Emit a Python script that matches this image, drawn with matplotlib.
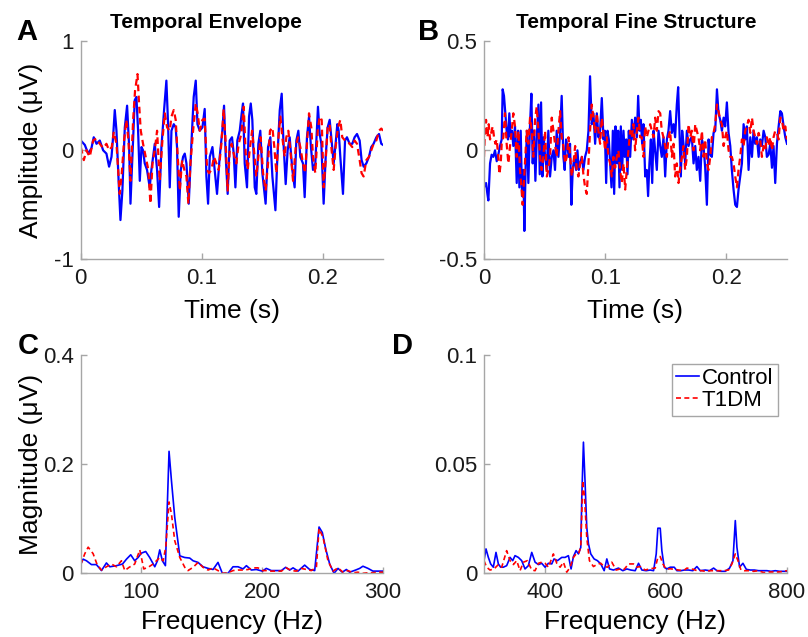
import numpy as np
import matplotlib
matplotlib.use("Agg")
import matplotlib.pyplot as plt

plt.rcParams['font.family'] = ['Liberation Sans', 'DejaVu Sans']

# (time in ms, amplitude in uV)
env_control = [
    (0, 0.09), (3.3, 0.05), (6.1, -0.03), (8.8, 0.02), (10.7, 0.12), (13.0, 0.06), (15.7, 0.09),
    (18.5, 0.00), (21.2, -0.03), (23.4, -0.15), (25.4, -0.06), (26.7, 0.12), (28.1, 0.37),
    (29.5, 0.18), (31.4, -0.31), (32.8, -0.64), (34.4, -0.37), (36.4, 0.21), (38.3, 0.41),
    (40.0, 0.03), (41.1, -0.49), (42.7, -0.06), (44.6, 0.46), (46.0, 0.49), (47.4, 0.18),
    (48.8, -0.28), (50.2, 0.03), (51.5, 0.00), (52.9, -0.12), (54.8, -0.18), (57.0, -0.34),
    (58.4, -0.18), (61.2, 0.06), (63.1, -0.18), (64.8, -0.52), (66.7, 0.03), (68.9, 0.37),
    (70.8, 0.64), (72.2, 0.24), (73.6, -0.34), (75.0, 0.18), (76.9, 0.24), (78.5, 0.21),
    (79.6, 0.03), (81.0, -0.61), (82.7, -0.18), (84.6, -0.06), (86.0, -0.03), (87.4, -0.12),
    (89.3, -0.49), (91.5, 0.06), (93.4, 0.49), (95.1, 0.64), (96.5, 0.24), (98.4, 0.18),
    (100.6, 0.21), (102.5, 0.38), (103.9, -0.24), (105.3, -0.49), (106.7, -0.06), (108.9, 0.03),
    (110.8, -0.18), (112.7, -0.40), (114.9, -0.06), (117.1, 0.18), (118.5, 0.41), (119.9, -0.06),
    (121.5, -0.40), (123.2, 0.09), (125.1, 0.12), (126.5, -0.03), (127.9, -0.34), (129.5, 0.09),
    (131.5, 0.18), (133.1, 0.34), (134.2, 0.43), (135.6, -0.12), (137.5, -0.34), (139.2, 0.31),
    (140.6, 0.43), (141.9, 0.28), (143.9, -0.34), (145.2, -0.40), (146.9, 0.06), (148.5, 0.18),
    (150.2, -0.21), (152.9, -0.49), (154.9, 0.03), (156.8, 0.12), (158.5, -0.24), (161.0, -0.55),
    (162.4, -0.12), (164.6, 0.37), (166.2, 0.52), (167.6, 0.09), (169.5, -0.31), (171.1, 0.00),
    (172.8, 0.12), (175.0, -0.18), (176.9, -0.34), (178.3, 0.09), (180.0, 0.18), (181.6, -0.06),
    (183.8, -0.12), (185.2, -0.43), (187.1, 0.12), (188.8, 0.31), (190.4, 0.03), (192.1, -0.18),
    (194.0, -0.12), (196.2, 0.40), (197.6, 0.15), (199.0, 0.06), (200.9, -0.49), (202.6, -0.06),
    (204.2, 0.21), (205.9, 0.28), (207.5, 0.09), (209.2, -0.12), (210.8, 0.06), (212.2, 0.24),
    (213.3, 0.18), (214.7, -0.06), (216.9, -0.40), (218.6, 0.09), (220.2, 0.12), (222.4, 0.06),
    (224.6, 0.06), (226.5, 0.12), (228.5, 0.15), (230.7, 0.09), (232.3, -0.09), (234.0, -0.15),
    (236.2, -0.12), (238.4, -0.06), (240.3, 0.03), (242.2, 0.06), (244.5, 0.12), (246.7, 0.15),
    (248.6, 0.06), (250.0, 0.05),
]
env_t1dm = [
    (0, 0.03), (2.5, -0.09), (4.7, 0.00), (7.4, -0.06), (10.2, 0.09), (13.0, 0.11), (15.7, 0.06),
    (18.5, 0.02), (21.2, 0.06), (23.4, 0.00), (25.6, 0.03), (27.3, 0.17), (29.5, 0.06),
    (32.2, -0.40), (33.9, -0.21), (35.8, 0.09), (37.7, 0.28), (39.4, 0.09), (41.1, -0.28),
    (43.3, 0.28), (44.9, 0.55), (46.9, 0.70), (48.2, 0.43), (49.6, 0.18), (51.5, 0.06),
    (53.7, -0.06), (55.9, -0.18), (57.6, -0.49), (59.3, -0.12), (61.2, 0.00), (63.1, 0.18),
    (65.3, -0.28), (67.5, 0.09), (69.5, 0.34), (71.4, 0.21), (73.6, 0.18), (75.0, 0.31),
    (76.9, 0.37), (78.5, 0.28), (80.5, -0.12), (81.9, -0.37), (83.8, -0.09), (85.7, -0.18),
    (87.4, -0.24), (89.0, -0.49), (90.7, -0.12), (92.9, 0.18), (95.1, 0.43), (96.7, 0.34),
    (98.4, 0.18), (100.6, 0.28), (102.5, 0.29), (104.5, -0.18), (106.1, -0.21), (108.0, -0.18),
    (110.2, -0.06), (112.2, -0.12), (114.1, -0.18), (116.3, 0.06), (118.2, 0.38), (119.9, 0.06),
    (121.5, -0.37), (123.2, 0.00), (124.8, 0.06), (126.5, -0.03), (128.7, -0.12), (130.6, 0.06),
    (132.8, 0.15), (134.8, 0.40), (136.4, -0.03), (138.1, -0.18), (139.7, 0.00), (141.7, 0.18),
    (143.3, 0.00), (145.2, -0.24), (146.9, -0.06), (148.8, 0.12), (150.8, -0.21), (152.9, -0.37),
    (154.9, -0.12), (156.5, 0.18), (158.5, 0.21), (160.1, 0.03), (161.8, -0.21), (163.7, 0.15),
    (165.1, 0.31), (166.7, 0.12), (168.7, -0.06), (170.0, 0.12), (171.7, 0.18), (173.6, -0.03),
    (175.6, -0.28), (177.8, 0.03), (179.7, 0.12), (181.6, 0.03), (183.8, -0.12), (185.5, -0.21),
    (187.1, 0.06), (188.8, 0.34), (190.7, 0.21), (192.1, -0.06), (194.0, -0.21), (196.0, 0.18),
    (197.6, 0.31), (199.3, 0.28), (200.9, -0.34), (202.6, -0.09), (204.2, 0.21), (205.9, 0.24),
    (207.5, 0.00), (209.2, -0.18), (210.8, 0.03), (212.8, 0.21), (214.7, 0.28), (216.3, 0.12),
    (218.6, 0.09), (220.2, 0.09), (222.4, 0.06), (224.6, 0.03), (226.5, 0.09), (228.5, 0.06),
    (230.7, -0.09), (232.3, -0.21), (234.0, -0.24), (236.2, -0.09), (238.4, -0.06), (240.3, 0.00),
    (242.2, 0.06), (244.5, 0.09), (246.7, 0.18), (248.6, 0.20), (250.0, 0.18),
]
tfs_control = [
    (0, -0.17), (1.7, -0.15), (2.8, -0.20), (3.6, -0.23), (5.0, -0.06), (6.3, -0.02), (7.7, -0.03),
    (9.1, 0), (10.5, -0.05), (11.8, -0.02), (13.2, 0.02), (14.6, 0.05), (15.4, 0.28), (16.5, 0.25),
    (17.6, 0.17), (18.7, 0.09), (19.8, 0.05), (20.9, 0.17), (22.0, 0.06), (23.1, 0.09), (24.2, 0.02),
    (25.6, 0.11), (27.0, -0.15), (28.1, 0.09), (29.2, -0.17), (30.3, 0.09), (31.4, -0.21),
    (32.5, -0.09), (33.3, -0.37), (34.4, -0.06), (35.5, 0.09), (36.6, -0.15), (38.0, 0.12),
    (39.1, 0.26), (40.2, -0.06), (41.3, 0.09), (42.4, -0.14), (43.5, 0.05), (44.9, 0.21),
    (46.0, -0.11), (47.1, 0.22), (48.2, -0.12), (49.3, 0.06), (50.4, -0.03), (51.8, -0.09),
    (53.1, 0.09), (54.5, -0.12), (55.9, -0.03), (57.3, 0), (58.6, -0.09), (60.0, 0.09), (61.4, -0.03),
    (62.8, 0.08), (64.1, 0.25), (65.5, -0.03), (66.6, -0.09), (67.7, 0.05), (68.8, 0.02),
    (69.9, -0.03), (71.0, 0.03), (72.1, -0.25), (73.2, -0.09), (74.6, -0.03), (76.0, -0.09),
    (77.1, 0), (78.2, -0.09), (79.3, -0.06), (80.7, -0.03), (82.0, -0.09), (83.4, -0.03), (84.8, 0),
    (86.2, 0.09), (87.5, 0.34), (88.9, 0.12), (90.3, 0.17), (91.7, 0.03), (93.1, 0.17), (94.4, 0.06),
    (95.8, 0.09), (97.2, 0.24), (98.6, 0.05), (99.7, 0.09), (100.8, -0.15), (101.9, 0.09),
    (103.0, 0.05), (104.1, -0.06), (105.2, -0.17), (106.3, 0.09), (107.4, -0.20), (108.5, 0.11),
    (109.6, -0.06), (110.7, 0.09), (111.8, -0.17), (112.9, 0.11), (114.0, -0.09), (115.1, 0.09),
    (116.2, -0.03), (117.3, 0.05), (118.4, -0.11), (119.5, 0.09), (120.6, -0.03), (122.0, 0.14),
    (123.3, 0.05), (124.7, 0.15), (126.1, 0.06), (127.2, 0.25), (128.3, 0.09), (129.4, 0.14),
    (130.5, 0.03), (131.6, 0.12), (133.0, -0.12), (134.3, -0.09), (135.4, -0.21), (136.5, -0.06),
    (137.7, 0.05), (138.8, -0.15), (139.9, 0.09), (141.2, 0), (142.6, -0.09), (144.0, 0.09),
    (145.4, 0.02), (146.7, -0.03), (148.1, 0.06), (149.5, -0.12), (150.9, 0.05), (152.2, 0.09),
    (153.6, 0.18), (155.0, 0.08), (156.4, 0.12), (157.7, 0.06), (159.1, 0.21), (160.2, 0.29),
    (161.3, 0.09), (162.4, -0.12), (163.5, 0.09), (164.6, 0.03), (166.0, -0.06), (167.4, 0.09),
    (168.8, 0.02), (170.1, 0.05), (171.5, 0.06), (172.9, -0.06), (174.3, 0.02), (175.6, -0.09),
    (177.0, -0.03), (178.4, -0.14), (179.8, 0.05), (181.1, 0.02), (182.5, -0.08), (183.9, -0.25),
    (185.3, 0.05), (186.7, -0.02), (188.0, -0.03), (189.4, 0.08), (190.8, 0.09), (192.2, 0.28),
    (193.5, 0.17), (194.9, 0.14), (196.3, 0.09), (197.7, 0.15), (199.0, 0.11), (200.4, 0.22),
    (201.8, 0.08), (203.2, 0.02), (204.5, -0.09), (205.9, -0.18), (207.3, -0.25), (208.7, -0.26),
    (210.0, -0.18), (211.4, -0.12), (212.8, -0.06), (214.2, 0.12), (215.6, 0.05), (216.9, 0.11),
    (218.3, -0.09), (219.7, 0.06), (221.1, -0.03), (222.4, 0.09), (223.8, 0.03), (225.2, 0.06),
    (226.6, -0.03), (227.9, 0.05), (229.3, 0.02), (230.7, 0.09), (232.1, 0.06), (233.4, -0.03),
    (234.8, -0.02), (236.2, 0.03), (237.6, -0.08), (238.9, 0.02), (240.3, -0.15), (241.7, 0.03),
    (243.1, 0.11), (244.5, 0.18), (245.8, 0.17), (247.2, 0.11), (248.6, 0.06), (250.0, 0.03),
]
tfs_t1dm = [
    (0, -0.03), (0.8, 0.09), (1.7, 0.14), (2.8, 0.06), (3.9, 0.12), (5.0, 0.05), (6.3, 0.09),
    (7.2, 0.11), (8.3, 0.06), (9.4, 0.03), (10.5, 0.05), (11.8, -0.03), (12.7, -0.11), (13.8, -0.06),
    (14.6, 0.03), (16.0, 0.06), (17.3, 0.17), (18.7, 0.03), (20.1, -0.06), (21.5, 0.02), (22.9, 0.09),
    (24.2, 0.17), (25.6, 0.11), (27.0, -0.03), (28.4, 0.09), (29.7, -0.09), (31.1, -0.18),
    (31.9, -0.25), (33.0, -0.14), (34.1, -0.03), (35.2, 0.09), (36.6, 0.03), (38.0, 0.15),
    (39.4, 0.09), (40.7, -0.03), (42.1, 0.14), (43.5, 0.20), (44.9, 0.09), (46.3, -0.03),
    (47.6, -0.09), (49.0, -0.03), (50.4, 0.09), (51.8, -0.12), (53.1, -0.09), (54.5, -0.03),
    (55.9, 0.15), (57.3, 0.09), (58.6, 0.03), (60.0, -0.03), (61.4, 0.09), (62.8, 0.18), (64.1, 0.06),
    (65.5, 0.02), (66.9, -0.06), (68.3, -0.03), (69.7, 0.06), (71.0, -0.02), (72.4, -0.12),
    (73.8, -0.06), (75.2, 0.02), (76.5, -0.09), (77.9, -0.12), (79.3, -0.06), (80.7, -0.03),
    (82.0, -0.11), (83.4, -0.17), (84.8, -0.20), (86.2, -0.06), (87.5, 0.09), (88.9, 0.21),
    (90.3, 0.15), (91.7, 0.08), (93.1, 0.17), (94.4, 0.09), (95.8, 0.03), (97.2, 0.15), (98.6, 0.08),
    (99.9, 0), (101.3, 0.06), (102.7, -0.03), (104.1, -0.06), (105.4, -0.12), (106.8, -0.03),
    (108.2, -0.08), (109.6, -0.03), (110.9, 0), (112.3, -0.09), (113.7, -0.15), (115.1, -0.06),
    (116.5, -0.18), (117.8, -0.09), (119.2, 0), (120.6, 0.09), (122.0, 0.06), (123.3, 0.12),
    (124.7, 0), (126.1, 0.09), (127.5, 0.15), (128.8, 0.06), (130.2, 0.06), (131.6, -0.03),
    (133.0, 0.11), (134.3, 0.06), (135.7, 0.09), (137.1, 0.12), (138.5, 0.09), (139.9, 0.06),
    (141.2, 0.15), (142.6, 0.09), (144.0, 0.18), (145.4, 0.17), (146.7, 0.09), (148.1, 0.06),
    (149.5, 0.02), (150.9, -0.03), (152.2, 0.06), (153.6, 0.09), (155.0, -0.03), (156.4, 0.03),
    (157.7, -0.12), (159.1, -0.06), (160.5, -0.15), (161.9, -0.08), (163.3, -0.03), (164.6, 0.02),
    (166.0, -0.09), (167.4, -0.03), (168.8, 0.12), (170.1, 0.06), (171.5, 0.09), (172.9, 0),
    (174.3, 0.12), (175.6, 0.09), (177.0, 0.06), (178.4, 0), (179.8, 0.09), (181.1, -0.03),
    (182.5, 0.05), (183.9, -0.06), (185.3, -0.09), (186.7, -0.03), (188.0, 0.06), (189.4, 0.08),
    (190.8, 0.12), (192.2, 0.21), (193.5, 0.18), (194.9, 0.14), (196.3, 0.12), (197.7, 0.02),
    (199.0, 0.06), (200.4, 0.09), (201.8, 0), (203.2, -0.03), (204.5, -0.03), (205.9, -0.06),
    (207.3, -0.12), (208.7, -0.17), (210.0, -0.09), (211.4, -0.03), (212.8, 0.05), (214.2, 0.02),
    (215.6, 0.09), (216.9, 0.11), (218.3, 0.14), (219.7, 0.08), (221.1, 0.15), (222.4, 0.09),
    (223.8, 0.06), (225.2, 0.03), (226.6, 0.08), (227.9, 0.05), (229.3, -0.03), (230.7, 0.02),
    (232.1, 0), (233.4, 0.06), (234.8, 0.02), (236.2, 0.06), (237.6, 0), (238.9, 0.06), (240.3, 0.09),
    (241.7, 0.08), (243.1, 0.05), (244.5, 0.15), (245.8, 0.14), (247.2, 0.09), (248.6, 0.11),
    (250.0, 0.05),
]

# (frequency in Hz, magnitude in uV)
env_spec_control = [
    (50.0, 0.017), (51.9, 0.026), (54.7, 0.023), (58.8, 0.016), (62.9, 0.016), (67.1, 0.005),
    (71.2, 0.019), (74.0, 0.012), (79.5, 0.014), (84.5, 0.017), (87.8, 0.026), (91.3, 0.034),
    (94.6, 0.023), (97.4, 0.029), (100.1, 0.037), (103.7, 0.040), (107.0, 0.029), (111.2, 0.012),
    (113.4, 0.023), (115.3, 0.043), (117.5, 0.023), (120.0, 0.014), (123.0, 0.224), (125.0, 0.170),
    (127.7, 0.103), (131.9, 0.032), (136.0, 0.029), (140.1, 0.028), (142.9, 0.023), (147.0, 0.020),
    (151.1, 0.012), (155.3, 0.009), (159.4, 0.007), (163.5, 0.020), (167.1, 0.0), (171.8, 0.0),
    (175.9, 0.012), (180.1, 0.012), (184.2, 0.008), (187.0, 0.014), (191.1, 0.006), (195.2, 0.007),
    (200.2, 0.004), (203.5, 0.009), (207.6, 0.005), (212.3, 0.005), (215.9, 0.005), (219.5, 0.011),
    (222.8, 0.006), (225.6, 0.010), (229.7, 0.004), (235.2, 0.015), (239.3, 0.007), (243.5, 0.005),
    (247.1, 0.085), (249.8, 0.075), (252.6, 0.045), (255.9, 0.017), (259.5, 0.0), (262.8, 0.009),
    (266.3, 0.002), (269.7, 0.007), (272.4, 0.002), (277.4, 0.006), (280.7, 0.009), (283.4, 0.013),
    (287.6, 0.009), (291.7, 0.004), (295.8, 0.004), (300.0, 0.004),
]
env_spec_t1dm = [
    (50.0, 0.016), (53.3, 0.036), (56.1, 0.048), (60.2, 0.036), (63.5, 0.016), (67.1, 0.006),
    (71.2, 0.012), (75.4, 0.017), (79.5, 0.012), (83.6, 0.023), (86.4, 0.005), (90.0, 0.011),
    (94.6, 0.017), (98.8, 0.043), (102.1, 0.008), (105.7, 0.011), (109.8, 0.017), (112.6, 0.023),
    (115.3, 0.029), (118.1, 0.023), (120.3, 0.048), (123.0, 0.131), (125.0, 0.109), (127.7, 0.060),
    (131.9, 0.029), (136.0, 0.011), (138.7, 0.005), (142.9, 0.011), (147.0, 0.020), (151.1, 0.011),
    (155.3, 0.006), (159.4, 0.010), (163.5, 0.005), (167.7, 0.0), (171.8, 0.001), (175.9, 0.005),
    (180.1, 0.006), (184.2, 0.006), (188.4, 0.007), (192.5, 0.010), (196.6, 0.010), (200.2, 0.005),
    (203.5, 0.005), (207.6, 0.004), (211.8, 0.004), (215.9, 0.004), (220.0, 0.010), (224.2, 0.005),
    (228.3, 0.004), (232.4, 0.009), (236.6, 0.007), (240.7, 0.005), (244.9, 0.011), (247.1, 0.082),
    (250.4, 0.066), (254.5, 0.023), (258.6, 0.004), (262.8, 0.010), (266.9, 0.002), (271.0, 0.005),
    (275.2, 0.001), (279.3, 0.002), (283.4, 0.0), (287.6, 0.001), (291.7, 0.001), (295.8, 0.002),
    (300.0, 0.002),
]
tfs_spec_control = [
    (300.0, 0.0058), (303.3, 0.0112), (307.2, 0.0073), (311.0, 0.0043), (315.4, 0.0028),
    (319.8, 0.0096), (323.7, 0.0043), (327.5, 0.0028), (331.9, 0.0028), (337.4, 0.0035),
    (343.0, 0.0073), (347.4, 0.0058), (351.2, 0.0081), (356.7, 0.0073), (362.2, 0.0058),
    (367.7, 0.0020), (373.2, 0.0035), (378.8, 0.0096), (384.3, 0.0051), (389.8, 0.0040),
    (395.3, 0.0046), (400.8, 0.0028), (406.3, 0.0046), (411.8, 0.0043), (415.6, 0.0066),
    (421.2, 0.0058), (428.3, 0.0073), (433.8, 0.0073), (439.3, 0.0081), (443.7, 0.0020),
    (447.6, 0.0077), (452.0, 0.0104), (455.8, 0.0089), (459.7, 0.0119), (461.4, 0.0349),
    (464.1, 0.0602), (466.9, 0.0410), (469.6, 0.0211), (472.4, 0.0135), (476.2, 0.0089),
    (481.7, 0.0066), (487.2, 0.0058), (492.7, 0.0043), (498.3, 0.0012), (502.7, 0.0066),
    (507.1, 0.0020), (513.7, 0.0015), (521.9, 0.0024), (529.1, 0.0012), (535.7, 0.0020),
    (542.3, 0.0015), (549.5, 0.0012), (555.0, 0.0046), (560.5, 0.0015), (567.6, 0.0012),
    (574.2, 0.0015), (579.8, 0.0012), (584.2, 0.0089), (586.9, 0.0207), (590.8, 0.0207),
    (593.5, 0.0104), (597.4, 0.0028), (601.8, 0.0020), (607.3, 0.0028), (613.9, 0.0028),
    (618.3, 0.0012), (624.9, 0.0012), (630.4, 0.0015), (637.6, 0.0015), (644.7, 0.0012),
    (651.3, 0.0031), (656.9, 0.0012), (665.1, 0.0015), (672.3, 0.0012), (678.9, 0.0024),
    (684.4, 0.0012), (691.0, 0.0009), (698.2, 0.0009), (705.3, 0.0024), (710.8, 0.0058),
    (714.7, 0.0242), (717.4, 0.0119), (721.8, 0.0028), (727.3, 0.0046), (732.9, 0.0018),
    (739.5, 0.0015), (746.1, 0.0015), (753.2, 0.0012), (760.4, 0.0012), (767.0, 0.0012),
    (773.6, 0.0009), (780.8, 0.0012), (787.9, 0.0009), (794.5, 0.0009), (800.0, 0.0009),
]
tfs_spec_t1dm = [
    (300.0, 0.0058), (304.4, 0.0028), (309.9, 0.0015), (316.5, 0.0020), (323.7, 0.0040),
    (329.2, 0.0028), (337.4, 0.0104), (343.0, 0.0058), (348.5, 0.0040), (354.0, 0.0058),
    (359.5, 0.0012), (365.0, 0.0051), (371.6, 0.0058), (378.8, 0.0015), (384.3, 0.0012),
    (389.8, 0.0046), (395.3, 0.0051), (400.8, 0.0046), (406.3, 0.0028), (414.5, 0.0089),
    (420.1, 0.0046), (425.6, 0.0028), (431.1, 0.0051), (436.6, 0.0005), (442.1, 0.0028),
    (447.6, 0.0073), (452.0, 0.0089), (455.8, 0.0089), (459.7, 0.0119), (463.0, 0.0426),
    (465.8, 0.0349), (469.6, 0.0165), (474.0, 0.0058), (480.6, 0.0031), (486.1, 0.0040),
    (492.7, 0.0046), (498.3, 0.0031), (503.8, 0.0028), (510.9, 0.0051), (518.1, 0.0015),
    (524.7, 0.0020), (531.3, 0.0018), (538.5, 0.0043), (546.7, 0.0043), (552.2, 0.0028),
    (557.7, 0.0031), (566.0, 0.0015), (574.2, 0.0021), (582.5, 0.0024), (586.9, 0.0073),
    (590.8, 0.0077), (595.2, 0.0043), (600.7, 0.0018), (607.3, 0.0021), (613.9, 0.0018),
    (621.1, 0.0015), (629.3, 0.0012), (634.8, 0.0024), (640.3, 0.0021), (645.8, 0.0018),
    (651.3, 0.0012), (659.6, 0.0012), (665.1, 0.0009), (673.4, 0.0012), (681.6, 0.0012),
    (688.8, 0.0012), (695.4, 0.0012), (703.6, 0.0015), (709.1, 0.0043), (714.7, 0.0089),
    (719.1, 0.0058), (724.0, 0.0015), (729.5, 0.0012), (736.7, 0.0012), (744.9, 0.0009),
    (753.2, 0.0012), (761.5, 0.0003), (769.7, 0.0006), (778.0, 0.0006), (786.3, 0.0006),
    (794.5, 0.0009), (800.0, 0.0012),
]

AXCOL = '#a6a6a6'
BLUE = '#0000ff'
RED = '#ff0000'


def style(ax, xlim, ylim, xticks, yticks, xlabels, ylabels):
    for s in ['top', 'right']:
        ax.spines[s].set_visible(False)
    for s in ['left', 'bottom']:
        ax.spines[s].set_color(AXCOL)
        ax.spines[s].set_linewidth(1.0)
    ax.set_xlim(*xlim)
    ax.set_ylim(*ylim)
    ax.set_xticks(xticks)
    ax.set_xticklabels(xlabels)
    ax.set_yticks(yticks)
    ax.set_yticklabels(ylabels)
    ax.tick_params(direction='in', length=4, width=1.0, color=AXCOL,
                   labelsize=16, labelcolor='#1a1a1a')
    ax.tick_params(axis='x', pad=6)
    ax.tick_params(axis='y', pad=5)


fig = plt.figure(figsize=(8.08, 6.37), dpi=100)
axA = fig.add_axes([0.100, 0.593, 0.374, 0.342])
axB = fig.add_axes([0.599, 0.593, 0.375, 0.342])
axC = fig.add_axes([0.100, 0.100, 0.374, 0.342])
axD = fig.add_axes([0.599, 0.100, 0.375, 0.342])

for ax, ctrl, t1 in [(axA, env_control, env_t1dm), (axB, tfs_control, tfs_t1dm)]:
    t, v = np.array(ctrl).T
    ax.plot(t / 1000, v, color=BLUE, lw=1.6)
    t, v = np.array(t1).T
    ax.plot(t / 1000, v, color=RED, lw=1.6, ls=(0, (3, 2)))

for ax, ctrl, t1 in [(axC, env_spec_control, env_spec_t1dm), (axD, tfs_spec_control, tfs_spec_t1dm)]:
    f, m = np.array(ctrl).T
    ax.plot(f, m, color=BLUE, lw=1.2, label='Control')
    f, m = np.array(t1).T
    ax.plot(f, m, color=RED, lw=1.2, ls=(0, (3, 2)), label='T1DM')

style(axA, (0, 0.25), (-1, 1), [0, 0.1, 0.2], [-1, 0, 1], ['0', '0.1', '0.2'], ['-1', '0', '1'])
style(axB, (0, 0.25), (-0.5, 0.5), [0, 0.1, 0.2], [-0.5, 0, 0.5], ['0', '0.1', '0.2'], ['-0.5', '0', '0.5'])
style(axC, (50, 300), (0, 0.4), [100, 200, 300], [0, 0.2, 0.4], ['100', '200', '300'], ['0', '0.2', '0.4'])
style(axD, (300, 800), (0, 0.1), [400, 600, 800], [0, 0.05, 0.1], ['400', '600', '800'], ['0', '0.05', '0.1'])

for ax in [axA, axB]:
    ax.set_xlabel('Time (s)', fontsize=19, va='center')
    ax.xaxis.set_label_coords(0.5, -0.239)
for ax in [axC, axD]:
    ax.set_xlabel('Frequency (Hz)', fontsize=19, va='center')
    ax.xaxis.set_label_coords(0.5, -0.225)

axA.set_ylabel('Amplitude (μV)', fontsize=19, va='center')
axA.yaxis.set_label_coords(-0.165, 0.5)
axC.set_ylabel('Magnitude (μV)', fontsize=19, va='center')
axC.yaxis.set_label_coords(-0.165, 0.5)

fig.text(206 / 808, 1 - 22 / 637, 'Temporal Envelope', ha='center', va='center',
         fontsize=15, fontweight='bold')
fig.text(636 / 808, 1 - 22 / 637, 'Temporal Fine Structure', ha='center', va='center',
         fontsize=15, fontweight='bold')

for lab, x, y in [('A', 27, 32), ('B', 429, 32), ('C', 28, 346), ('D', 403, 346)]:
    fig.text(x / 808, 1 - y / 637, lab, ha='center', va='center', fontsize=21, fontweight='bold')

leg = axD.legend(loc='upper right', bbox_to_anchor=(0.970, 0.963), borderaxespad=0,
                 fontsize=16, handlelength=1.0, handletextpad=0.15, borderpad=0.2,
                 labelspacing=0.05, fancybox=False, framealpha=1)
leg.get_frame().set_edgecolor(AXCOL)
leg.get_frame().set_linewidth(1.0)

fig.savefig('out.png', dpi=100)
